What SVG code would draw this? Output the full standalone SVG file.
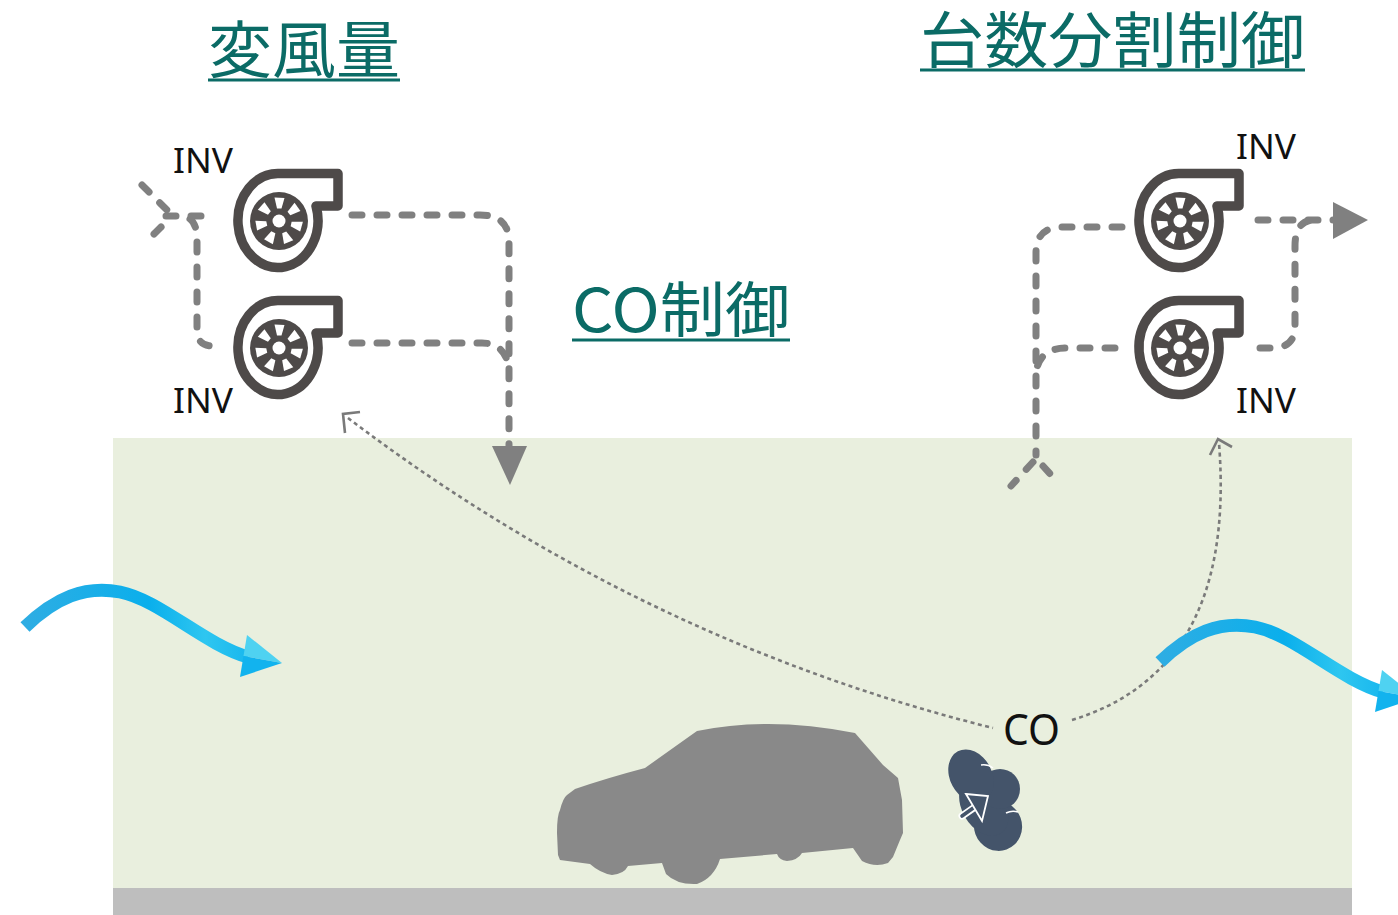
<svg xmlns="http://www.w3.org/2000/svg" width="1398" height="915" viewBox="0 0 1398 915">
  <defs>
    <style>
      .title{font-family:"Noto Sans CJK JP","Noto Sans",sans-serif;fill:#0B6B66;}
      .uline{fill:#0B6B66;}
      .lbl{font-family:"Noto Sans","Liberation Sans",sans-serif;fill:#111111;}
      .duct{fill:none;stroke:#808080;stroke-width:7;stroke-linecap:round;stroke-dasharray:10 15;}
      .sig{fill:none;stroke:#7A7A7A;stroke-width:2.6;stroke-dasharray:4 3.5;}
      .chev{fill:none;stroke:#7A7A7A;stroke-width:2.6;stroke-linejoin:miter;}
      .head{fill:#808080;}
      .fanline{fill:#FFFFFF;stroke:#4E4A49;stroke-width:9.5;stroke-linejoin:round;}
      .cloud{fill:#44546A;}
    </style>
    <linearGradient id="flowBody" gradientUnits="userSpaceOnUse" x1="25" y1="0" x2="250" y2="0">
      <stop offset="0" stop-color="#2EADE3"/>
      <stop offset="0.55" stop-color="#0AAFEC"/>
      <stop offset="0.8" stop-color="#2EC6F0"/>
      <stop offset="1" stop-color="#18B7EE"/>
    </linearGradient>
    <!-- blower: volute with outlet tab, impeller disc with 7 blade openings -->
    <path id="blade" d="M-2,-12.5 L2.5,-12.5 L5.5,-23 L-4.5,-23.5 Z" fill="#FFFFFF"/>
    <g id="fan">
      <path class="fanline" d="M37,-15 L59,-15 L59,-47.5 L0,-47.5 A40,47 0 1 0 37,-15 Z"/>
      <circle r="29" fill="#4E4A49"/>
      <use href="#blade"/>
      <use href="#blade" transform="rotate(51.43)"/>
      <use href="#blade" transform="rotate(102.86)"/>
      <use href="#blade" transform="rotate(154.29)"/>
      <use href="#blade" transform="rotate(205.71)"/>
      <use href="#blade" transform="rotate(257.14)"/>
      <use href="#blade" transform="rotate(308.57)"/>
      <circle r="6.5" fill="#FFFFFF"/>
    </g>
    <!-- curved supply-air arrow -->
    <g id="flow">
      <path d="M25,627 C55,598 85,585 120,592 C160,600 205,645 248,657" fill="none" stroke="url(#flowBody)" stroke-width="13"/>
      <polygon points="247,635 282,663 243.5,656" fill="#4FD2F1"/>
      <polygon points="243.5,656 282,663 240,677" fill="#12B3EE"/>
    </g>
  </defs>

  <!-- tunnel cross-section -->
  <g id="tunnel">
    <rect x="113" y="438" width="1239" height="450" fill="#E9EFDE"/>
    <rect x="113" y="888" width="1239" height="27" fill="#BEBEBE"/>
  </g>

  <!-- headings -->
  <g id="title-variable">
    <text class="title" x="208" y="73" font-size="62" textLength="192" lengthAdjust="spacingAndGlyphs">変風量</text>
    <rect class="uline" x="208" y="78.5" width="192" height="3"/>
  </g>
  <g id="title-staging">
    <text class="title" x="920" y="63" font-size="61" textLength="385" lengthAdjust="spacingAndGlyphs">台数分割制御</text>
    <rect class="uline" x="920" y="68.5" width="385" height="3"/>
  </g>
  <g id="title-co">
    <text class="title" x="572" y="332" font-size="60" textLength="218" lengthAdjust="spacingAndGlyphs">CO制御</text>
    <rect class="uline" x="572" y="338.5" width="218" height="3"/>
  </g>

  <!-- ducts and signal lines -->
  <g id="connectors">
    <!-- left pair: intake -->
    <path class="duct" d="M142,185 L168,211"/>
    <path class="duct" d="M154,234 L166,222"/>
    <path class="duct" d="M166,216 L210,216"/>
    <path class="duct" d="M190,219 Q197,224 197,240 L197,330 Q197,346 213,346 L224,346"/>
    <!-- left pair: discharge -->
    <path class="duct" d="M352,215 L480,215 Q509,215 509,242 L509,446"/>
    <path class="duct" d="M352,343 L482,343 Q505,343 509,368"/>
    <polygon class="head" points="492,446 527,446 510,485"/>
    <!-- right pair: intake -->
    <path class="duct" d="M1122,227 L1062,227 Q1036,227 1036,253 L1036,455"/>
    <path class="duct" d="M1115,348 L1066,348 Q1040,348 1036,372"/>
    <path class="duct" d="M1033,462 L1011,486"/>
    <path class="duct" d="M1043,466 L1052,476"/>
    <!-- right pair: discharge -->
    <path class="duct" d="M1258,220 L1334,220"/>
    <path class="duct" d="M1260,348 L1272,348 Q1295,348 1295,326 L1295,246 Q1295,222 1312,220"/>
    <polygon class="head" points="1333,202 1368,220 1333,239"/>
    <!-- CO sensor feedback -->
    <path class="sig" d="M348,418 Q640,640 993,728"/>
    <polyline class="chev" points="360,412 343,414 345,433"/>
    <path class="sig" d="M1072,720 C1170,690 1232,610 1219,443"/>
    <polyline class="chev" points="1210,455 1218,439 1232,447"/>
  </g>

  <!-- blowers -->
  <g id="fan-left-upper"><use href="#fan" transform="translate(279,221)"/></g>
  <g id="fan-left-lower"><use href="#fan" transform="translate(279,348)"/></g>
  <g id="fan-right-upper"><use href="#fan" transform="translate(1180,221)"/></g>
  <g id="fan-right-lower"><use href="#fan" transform="translate(1180,348)"/></g>

  <!-- inverter labels -->
  <g id="labels">
    <text class="lbl" x="173" y="173" font-size="34" textLength="60" lengthAdjust="spacingAndGlyphs">INV</text>
    <text class="lbl" x="173" y="413" font-size="34" textLength="60" lengthAdjust="spacingAndGlyphs">INV</text>
    <text class="lbl" x="1236" y="159" font-size="34" textLength="60" lengthAdjust="spacingAndGlyphs">INV</text>
    <text class="lbl" x="1236" y="413" font-size="34" textLength="60" lengthAdjust="spacingAndGlyphs">INV</text>
  </g>

  <!-- air flow in / out -->
  <g id="flow-in"><use href="#flow"/></g>
  <g id="flow-out"><use href="#flow" transform="translate(1135,35)"/></g>

  <!-- vehicle -->
  <g id="car">
    <path fill="#898989" d="M575,789 Q607,778 645,768 Q673,748 697,731 Q770,716 855,733 L883,765 L898,778 L902,800 L903,833 L900,840 L893,857 L888,863 Q875,868 862,861 L853,848 L802,853 Q798,860 787,861 Q779,860 777,854 L720,859 Q714,878 697,884 Q677,885 666,874 L662,863 L628,866 Q624,874 612,875 Q600,873 590,864 L560,860 L558,855 L557,833 Q557,815 560,810 Q563,798 567,795 Z"/>
  </g>

  <!-- CO emission -->
  <g id="co-cloud">
    <ellipse class="cloud" cx="998" cy="826" rx="24" ry="25" transform="rotate(-20 998 826)"/>
    <ellipse class="cloud" cx="984" cy="806" rx="22" ry="32" transform="rotate(-30 984 806)"/>
    <circle class="cloud" cx="1000" cy="789" r="20"/>
    <ellipse class="cloud" cx="971" cy="776" rx="21" ry="28" transform="rotate(-28 971 776)"/>
    <path d="M981,765 Q988,764 993,768" fill="none" stroke="#FFFFFF" stroke-width="1.6"/>
    <path d="M1006,813 Q1012,810 1018,812" fill="none" stroke="#FFFFFF" stroke-width="1.6"/>
    <line x1="962" y1="816" x2="975" y2="807" stroke="#FFFFFF" stroke-width="7" stroke-linecap="round"/>
    <line x1="962" y1="816" x2="976" y2="806" stroke="#44546A" stroke-width="3.6" stroke-linecap="round"/>
    <polygon points="966,794 988,796 982,821" fill="#44546A" stroke="#FFFFFF" stroke-width="1.8" stroke-linejoin="miter"/>
    <text class="lbl" x="1003" y="745" font-size="44" textLength="57" lengthAdjust="spacingAndGlyphs">CO</text>
  </g>
</svg>
